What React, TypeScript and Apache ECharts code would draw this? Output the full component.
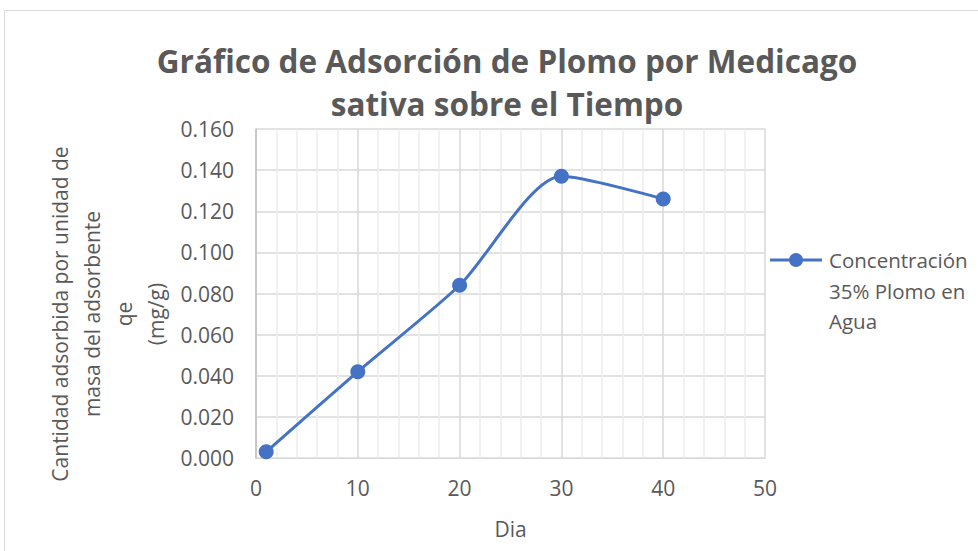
import React, { useEffect, useRef } from "react";
import * as echarts from "echarts";

const days = [1, 10, 20, 30, 40];
const qe = [0.003, 0.042, 0.084, 0.137, 0.126];
const seriesName = "Concentración 35% Plomo en Agua";
const legendLines = "Concentración\n35% Plomo en\nAgua";
const titleText = "Gráfico de Adsorción de Plomo por Medicago\nsativa sobre el Tiempo";
const xAxisName = "Dia";
const yAxisTitle = "Cantidad adsorbida por unidad de\nmasa del adsorbente\nqe\n(mg/g)";

const FONT = "'Open Sans', 'Noto Sans', sans-serif";
const GREY = "#595959";
const BLUE = "#4472C4";

export default function App() {
  const ref = useRef<HTMLDivElement>(null);
  useEffect(() => {
    document.body.style.margin = "0";
    const chart = echarts.init(ref.current!, null, { renderer: "svg" });
    chart.setOption({
      animation: false,
      backgroundColor: "#fff",
      textStyle: { fontFamily: FONT },
      title: {
        text: titleText,
        left: 502,
        top: 34,
        textAlign: "center",
        textStyle: { fontFamily: FONT, fontSize: 31.5, fontWeight: "bold", color: GREY, lineHeight: 43 },
      },
      grid: { left: 256, right: 213, top: 129, bottom: 93 },
      legend: { show: false, data: [seriesName] },
      xAxis: {
        type: "value",
        min: 0,
        max: 50,
        interval: 10,
        name: xAxisName,
        nameLocation: "middle",
        nameGap: 60,
        nameTextStyle: { fontFamily: FONT, fontSize: 21, color: GREY },
        axisLine: { show: true, lineStyle: { color: "#d9d9d9", width: 1 } },
        axisTick: { show: false },
        axisLabel: { fontFamily: FONT, fontSize: 21, color: GREY, margin: 19 },
        splitLine: { show: true, lineStyle: { color: "#d9d9d9", width: 1.5 } },
        minorTick: { show: false, splitNumber: 5 },
        minorSplitLine: { show: true, lineStyle: { color: "#ececec", width: 1.5 } },
      },
      yAxis: {
        type: "value",
        min: 0,
        max: 0.16,
        interval: 0.02,
        axisLine: { show: true, lineStyle: { color: "#bfbfbf", width: 1.5 } },
        axisTick: { show: false },
        axisLabel: {
          fontFamily: FONT,
          fontSize: 21,
          color: GREY,
          margin: 22,
          formatter: (v: number) => v.toFixed(3),
        },
        splitLine: { show: true, lineStyle: { color: "#d9d9d9", width: 1.5 } },
      },
      graphic: [
        {
          type: "rect",
          shape: { x: 4.5, y: 10.5, width: 1000, height: 600 },
          style: { fill: "none", stroke: "#d9d9d9", lineWidth: 1 },
          silent: true,
          z: -1,
        },
        {
          type: "text",
          x: 108,
          y: 314,
          rotation: Math.PI / 2,
          style: {
            text: yAxisTitle,
            fontFamily: FONT,
            fontSize: 21,
            fill: GREY,
            lineHeight: 32,
            align: "center",
            verticalAlign: "middle",
          },
        },
        {
          type: "group",
          children: [
            {
              type: "line",
              shape: { x1: 770, y1: 260, x2: 822, y2: 260 },
              style: { stroke: BLUE, lineWidth: 3 },
            },
            {
              type: "circle",
              shape: { cx: 796, cy: 260, r: 7 },
              style: { fill: BLUE },
            },
            {
              type: "text",
              x: 829,
              y: 245,
              style: {
                text: legendLines,
                fontFamily: FONT,
                fontSize: 20.5,
                fill: GREY,
                lineHeight: 30.5,
                align: "left",
                verticalAlign: "top",
              },
            },
          ],
        },
      ],
      series: [
        {
          name: seriesName,
          type: "line",
          data: days.map((d, i) => [d, qe[i]]),
          smooth: 0.25,
          symbol: "circle",
          symbolSize: 15,
          lineStyle: { color: BLUE, width: 3 },
          itemStyle: { color: BLUE },
        },
      ],
    });
    return () => chart.dispose();
  }, []);
  return <div ref={ref} style={{ width: 978, height: 551 }} />;
}
